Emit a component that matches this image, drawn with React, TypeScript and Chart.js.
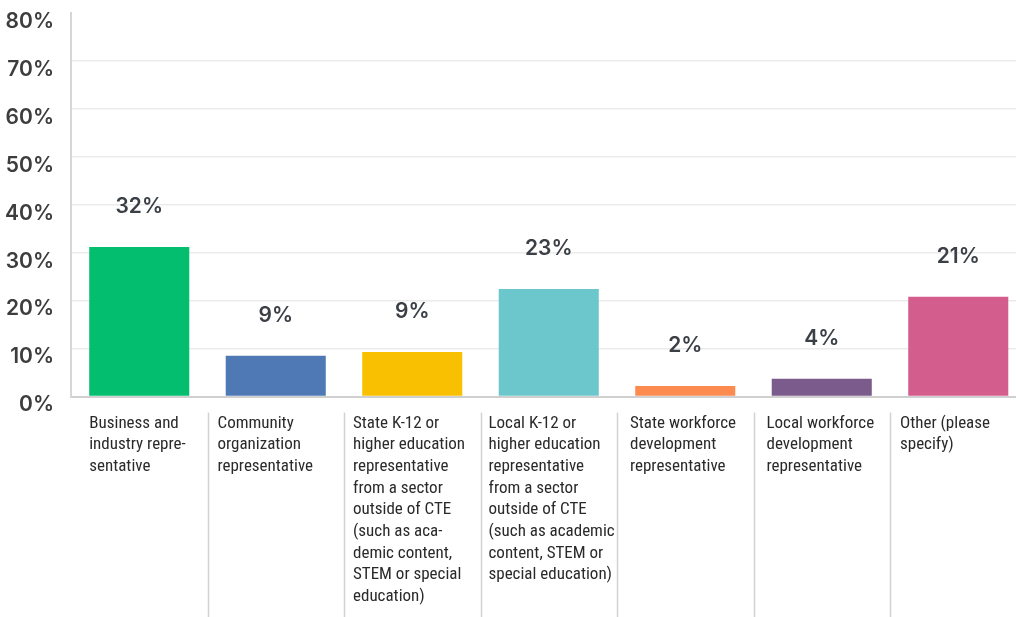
import React, { useEffect, useRef } from "react";
import { Chart, registerables } from "chart.js";

Chart.register(...registerables);

const categories: string[][] = [
  ["Business and", "industry repre-", "sentative"],
  ["Community", "organization", "representative"],
  ["State K-12 or", "higher education", "representative", "from a sector", "outside of CTE", "(such as aca-", "demic content,", "STEM or special", "education)"],
  ["Local K-12 or", "higher education", "representative", "from a sector", "outside of CTE", "(such as academic", "content, STEM or", "special education)"],
  ["State workforce", "development", "representative"],
  ["Local workforce", "development", "representative"],
  ["Other (please", "specify)"],
];

const values: number[] = [31.2, 8.5, 9.3, 22.4, 2.2, 3.7, 20.8];
const valueLabels: string[] = ["32%", "9%", "9%", "23%", "2%", "4%", "21%"];
const barColors: string[] = ["#02be6e", "#4f79b4", "#f8c000", "#6bc7cb", "#fd8b4f", "#7b5a8c", "#d35d8c"];
const labelInsets: number[] = [0, 10, 9, 8, 13, 13, 10];
const yMin = 0;
const yMax = 80;
const yStep = 10;

const overlayPlugin = {
  id: "overlay",
  afterDatasetsDraw(chart: any) {
    const ctx: CanvasRenderingContext2D = chart.ctx;
    const meta = chart.getDatasetMeta(0);
    const area = chart.chartArea;
    const n = categories.length;
    const step = (area.right - area.left) / n;
    ctx.save();
    // value labels
    ctx.font = "600 21px Inter, 'Noto Sans', sans-serif";
    ctx.fillStyle = "#3b3f46";
    ctx.textAlign = "center";
    ctx.textBaseline = "middle";
    meta.data.forEach((bar: any, i: number) => {
      ctx.fillText(valueLabels[i], bar.x, bar.y - 40);
    });
    // separators
    ctx.strokeStyle = "#d2d2d2";
    ctx.lineWidth = 1.5;
    for (let i = 1; i < n; i++) {
      const x = Math.round(area.left + step * i) + 0.5;
      ctx.beginPath();
      ctx.moveTo(x, area.bottom + 16);
      ctx.lineTo(x, chart.height);
      ctx.stroke();
    }
    // category labels
    ctx.font = "17px 'Liberation Sans Narrow', 'Roboto Condensed', 'DejaVu Sans Condensed', sans-serif";
    ctx.fillStyle = "#2a2a2a";
    ctx.textAlign = "left";
    ctx.textBaseline = "alphabetic";
    categories.forEach((lines, i) => {
      const bar = meta.data[i];
      const x = i === 0 ? bar.x - bar.width / 2 : area.left + step * i + labelInsets[i];
      lines.forEach((line, j) => {
        ctx.fillText(line, x, area.bottom + 31 + j * 21.7);
      });
    });
    ctx.restore();
  },
};

export default function App() {
  const canvasRef = useRef<HTMLCanvasElement | null>(null);

  useEffect(() => {
    if (!canvasRef.current) return;
    const chart = new Chart(canvasRef.current, {
      type: "bar",
      data: {
        labels: categories.map((c) => c.join(" ")),
        datasets: [
          {
            data: values,
            backgroundColor: barColors,
            borderWidth: 0,
            barPercentage: 0.733,
            categoryPercentage: 1,
          },
        ],
      },
      options: {
        animation: false,
        responsive: true,
        maintainAspectRatio: false,
        layout: { padding: { top: 13, bottom: 220.5, left: 0, right: 3.5 } },
        plugins: {
          legend: { display: false },
          tooltip: { enabled: false },
        },
        scales: {
          x: {
            grid: { display: false, drawTicks: false },
            border: { display: true, color: "#d0d0d0", width: 2 },
            ticks: { display: false },
            afterFit: (s: any) => {
              s.height = 0;
              s.paddingLeft = 0;
              s.paddingRight = 0;
            },
          },
          y: {
            min: yMin,
            max: yMax,
            ticks: {
              stepSize: yStep,
              padding: 17,
              labelOffset: 8.5,
              color: "#3d3d3d",
              font: { family: "Inter, 'Noto Sans', sans-serif", size: 21, weight: "600" },
              callback: (v: any) => v + "%",
            },
            grid: {
              drawTicks: false,
              lineWidth: 1.5,
              color: (c: any) =>
                c.tick && (c.tick.value === yMin || c.tick.value === yMax) ? "rgba(0,0,0,0)" : "#ebebeb",
            },
            border: { display: true, color: "#d6d6d6", width: 2 },
            afterFit: (s: any) => {
              s.width = 71;
              s.paddingTop = 0;
              s.paddingBottom = 0;
            },
          },
        },
      },
      plugins: [overlayPlugin],
    });
    return () => chart.destroy();
  }, []);

  return (
    <div style={{ position: "fixed", left: 0, top: 0, width: 1016, height: 617, overflow: "hidden", background: "#fff" }}>
      <div style={{ position: "relative", width: 1030, height: 617 }}>
        <canvas ref={canvasRef} />
      </div>
    </div>
  );
}
